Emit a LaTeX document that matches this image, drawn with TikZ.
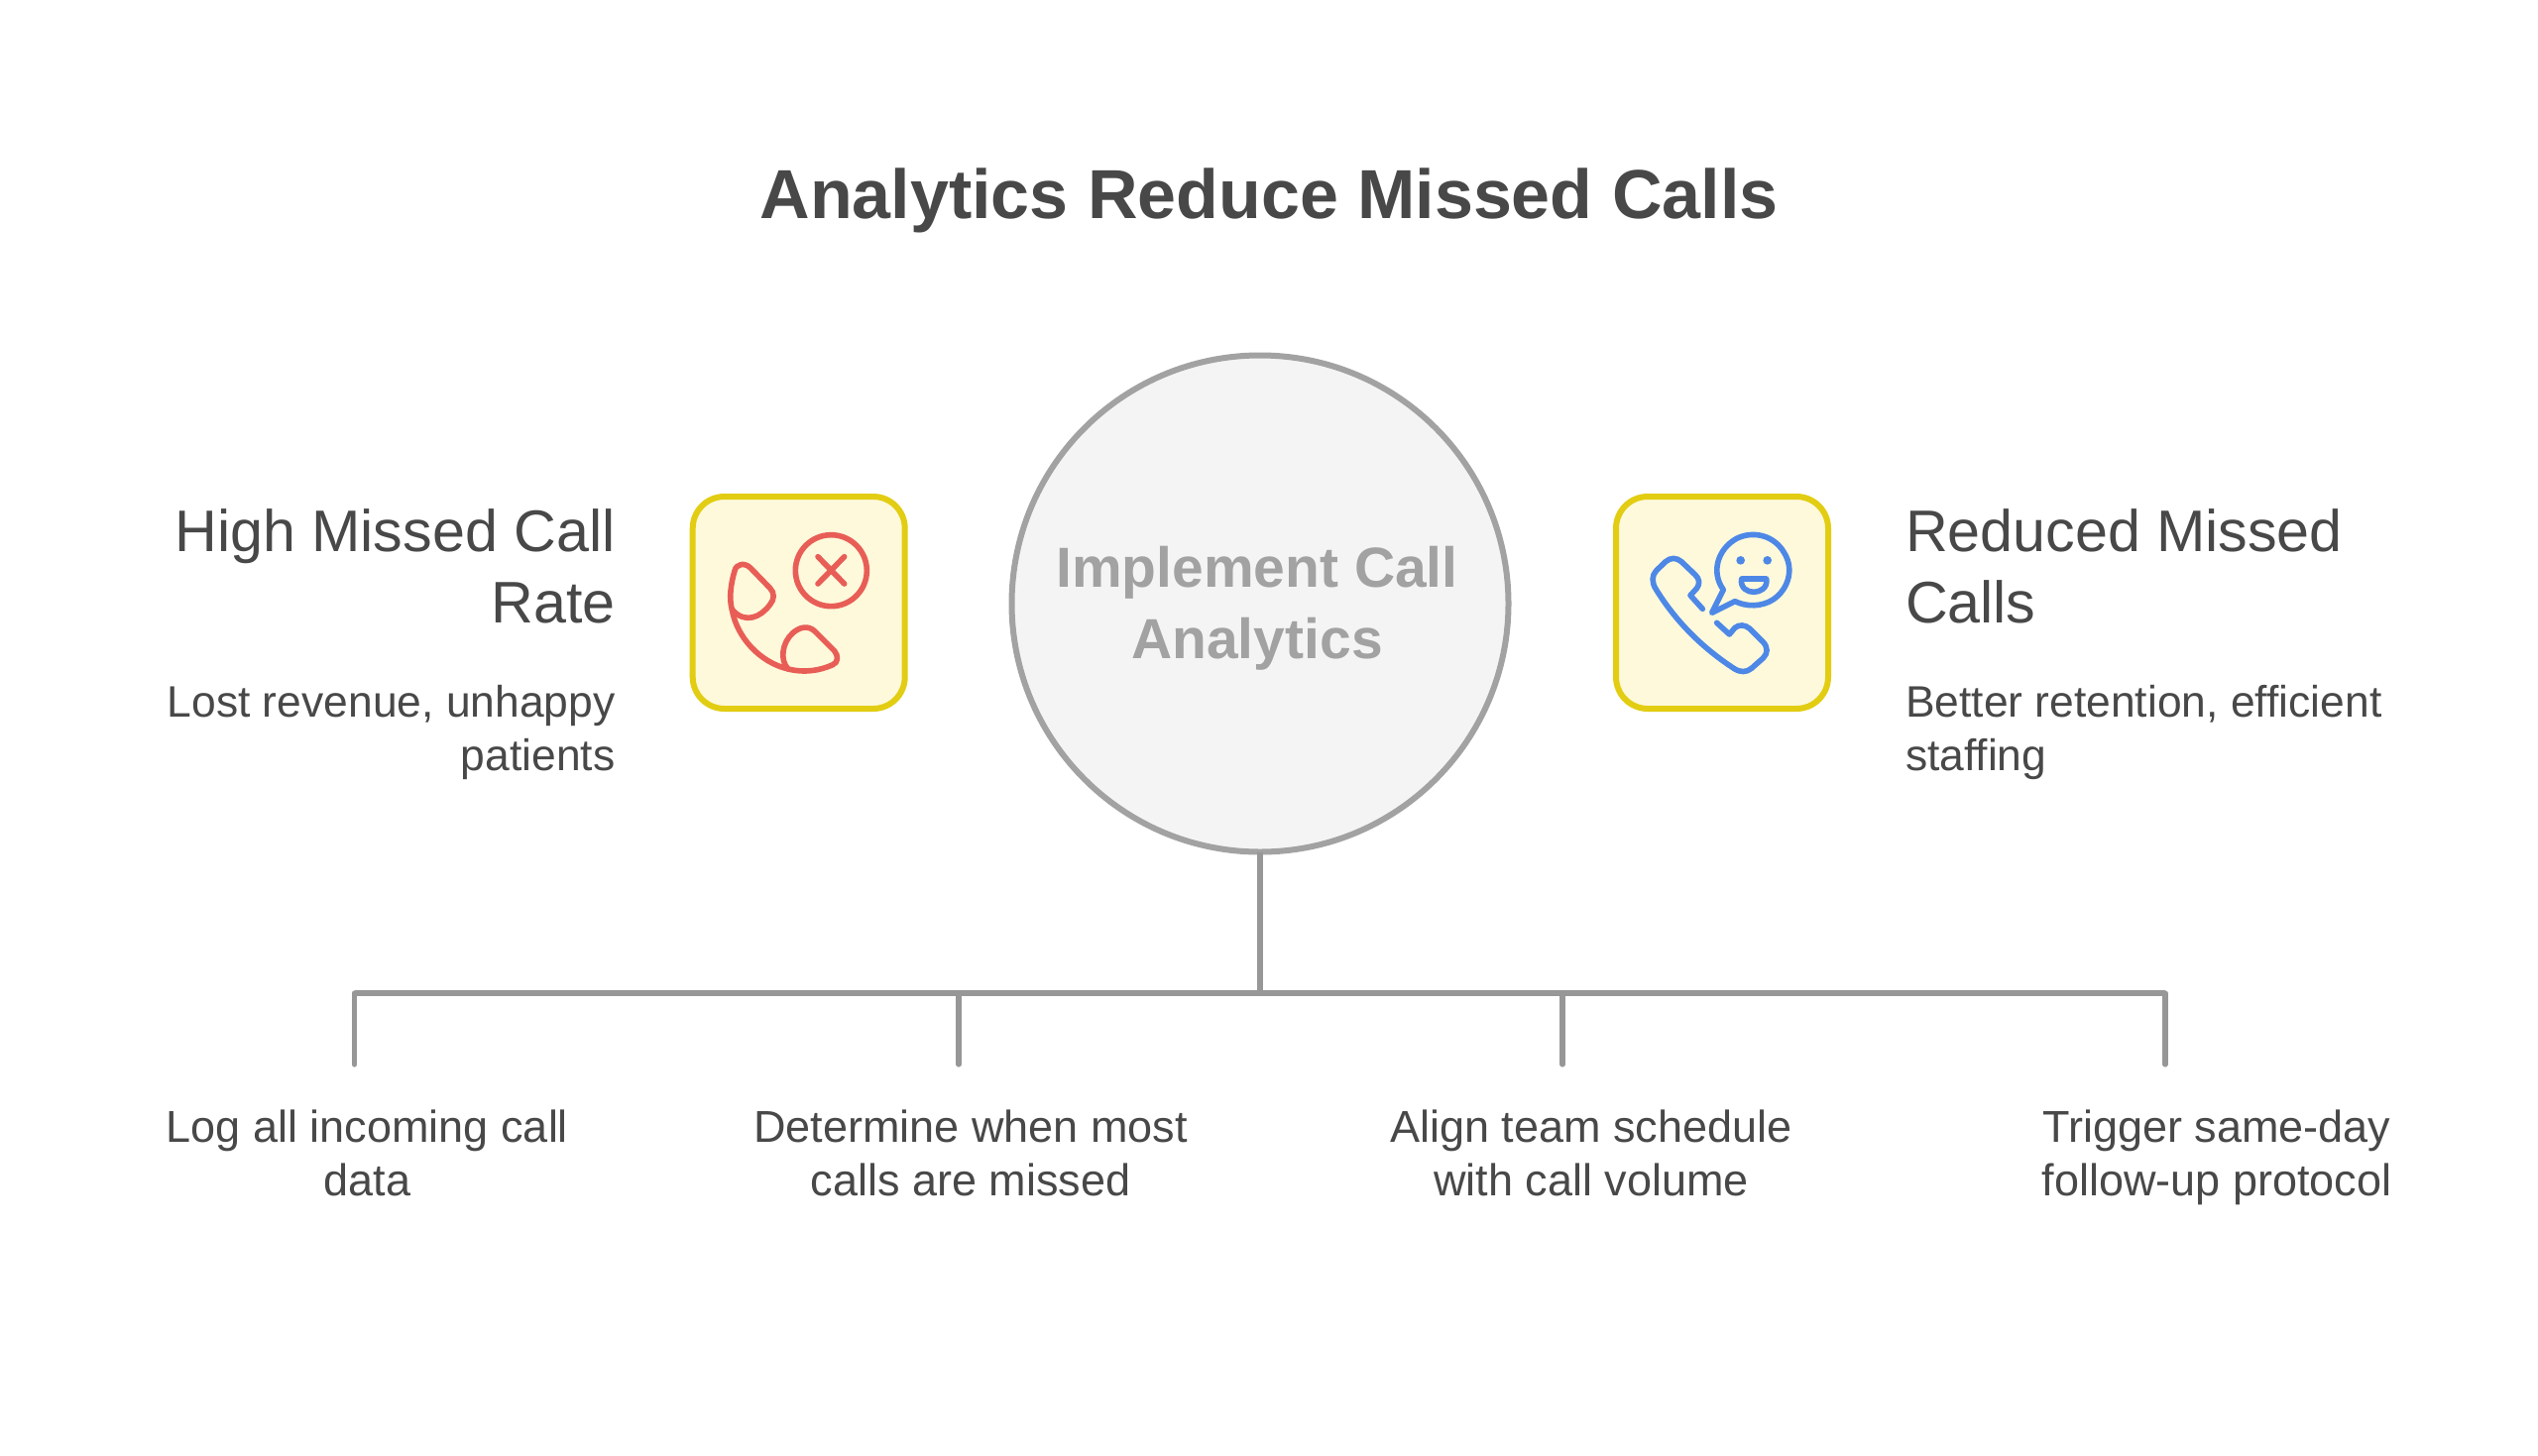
\documentclass[tikz,border=0pt]{standalone}
\usepackage{fontspec}
\setmainfont{Liberation Sans}
\definecolor{ink}{HTML}{484848}
\definecolor{ring}{HTML}{A2A2A2}
\definecolor{disc}{HTML}{F4F4F4}
\definecolor{wire}{HTML}{979797}
\definecolor{tile}{HTML}{FEF9DB}
\definecolor{tileedge}{HTML}{E2CD12}
\definecolor{redic}{HTML}{E85E57}
\definecolor{blueic}{HTML}{4E88E7}
\tikzset{
 every node/.style={inner sep=0pt,outer sep=0pt,text=ink},
 titletext/.style={font=\fontsize{35}{44}\selectfont\bfseries},
 headtext/.style={font=\fontsize{29.6}{36}\selectfont},
 subtext/.style={font=\fontsize{22.2}{27}\selectfont},
 hubtext/.style={font=\fontsize{28.5}{36}\selectfont\bfseries,text=ring,align=center},
 tasktext/.style={font=\fontsize{22.5}{27}\selectfont,align=center,anchor=north},
 hub/.style={circle,draw=ring,fill=disc,line width=3pt,minimum size=250.5pt},
 tilebox/.style={draw=tileedge,fill=tile,line width=3pt,rounded corners=16pt,minimum size=107pt},
 wireline/.style={draw=wire,line width=2.6pt},
 stub/.style={wireline,line cap=round},
 icon/.style={line width=2.8pt,line cap=round,line join=round},
 zoomed/.style={x=0.16667pt,y=-0.16667pt},
}
\begin{document}
\begin{tikzpicture}[x=0.5pt,y=-0.5pt]
\useasboundingbox (0,0) rectangle (2560,1468);
\fill[white] (0,0) rectangle (2560,1468);
\node[titletext] (title) at (1280,202) {Analytics Reduce Missed Calls};
\coordinate (busmid) at (1271,1002);
\coordinate (s1) at (357.5,1074);
\coordinate (s2) at (967,1074);
\coordinate (s3) at (1576,1074);
\coordinate (s4) at (2184,1074);
\coordinate (b1) at (s1 |- busmid);
\coordinate (b2) at (s2 |- busmid);
\coordinate (b3) at (s3 |- busmid);
\coordinate (b4) at (s4 |- busmid);
\draw[stub] (b1) -- (s1);
\draw[stub] (b2) -- (s2);
\draw[stub] (b3) -- (s3);
\draw[stub] (b4) -- (s4);
\draw[wireline,line join=round] (b1) -- (b4);
\node[hub] (hub) at (1271,609) {};
\node[hubtext] (hublabel) at (1268,614) {Implement Call\\Analytics};
\draw[wireline] (hub.south) -- (busmid);
\node[tilebox] (lefttile) at (805.7,608) {};
\node[tilebox] (righttile) at (1737,608) {};
\node[headtext,anchor=north east,align=right] (lefthead) at (620.5,514) {High Missed Call\\Rate};
\node[subtext,anchor=north east,align=right] (leftsub) at (620.5,691) {Lost revenue, unhappy\\patients};
\node[headtext,anchor=north west,align=left] (righthead) at (1922,514) {Reduced Missed\\Calls};
\node[subtext,anchor=north west,align=left] (rightsub) at (1922,691) {Better retention, efficient\\staffing};
\node[tasktext] (t1) at (370.5,1120) {Log all incoming call\\data};
\node[tasktext] (t2) at (979,1120) {Determine when most\\calls are missed};
\node[tasktext] (t3) at (1605,1120) {Align team schedule\\with call volume};
\node[tasktext] (t4) at (2236,1120) {Trigger same-day\\follow-up protocol};
\begin{scope}[shift={(680,480)},zoomed,icon,draw=redic]
\draw (475,287) circle[radius=108];
\draw (435,245) -- (515,327) (515,245) -- (435,327);
\draw (175,405) .. controls (165,370) and (172,325) .. (183,288)
 .. controls (188,265) and (215,262) .. (232,280) -- (290,340)
 .. controls (305,355) and (303,375) .. (290,390)
 .. controls (262,428) and (215,450) .. (175,405);
\draw (175,405) .. controls (190,490) and (260,565) .. (345,585);
\draw (345,585) .. controls (395,597) and (440,590) .. (480,572)
 .. controls (497,565) and (497,545) .. (485,530) -- (425,470)
 .. controls (405,452) and (380,458) .. (360,475)
 .. controls (325,505) and (320,560) .. (345,585);
\end{scope}
\begin{scope}[shift={(1610,480)},zoomed,icon,draw=blueic]
\draw (420,380) .. controls (455,397) and (500,397) .. (535,375)
 .. controls (580,345) and (600,285) .. (570,235)
 .. controls (540,180) and (475,165) .. (425,190)
 .. controls (370,220) and (345,290) .. (385,345) -- (350,415) -- cycle;
\fill[blueic] (437,256) circle[radius=13] (518,256) circle[radius=13];
\draw (440,312) -- (515,312) .. controls (520,340) and (495,352) .. (477,352) .. controls (458,352) and (435,340) .. (440,312) -- cycle;
\draw (322,403) -- (285,362) -- (305,340) .. controls (315,325) and (312,312) .. (300,300) -- (258,260)
 .. controls (243,247) and (225,247) .. (210,260) -- (182,287)
 .. controls (168,302) and (168,322) .. (180,342)
 .. controls (240,440) and (320,520) .. (418,584)
 .. controls (437,596) and (455,595) .. (470,583) -- (505,552)
 .. controls (520,537) and (520,520) .. (505,503) -- (465,463)
 .. controls (450,450) and (432,450) .. (420,460) -- (403,480) -- (365,445);
\end{scope}
\end{tikzpicture}
\end{document}
